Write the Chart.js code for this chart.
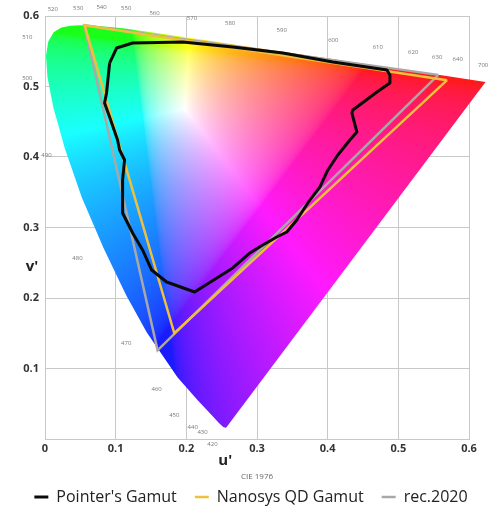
<!DOCTYPE html>
<html>
<head>
<meta charset="utf-8">
<script src="https://cdn.jsdelivr.net/npm/chart.js@4"></script>
<style>
  body { margin: 0; background: #fff; }
  #wrap { width: 502px; height: 512px; }
</style>
</head>
<body>
<div id="wrap"><canvas id="myChart"></canvas></div>
<script>
// spectral locus (CIE 1976 u'v'), 380 nm -> 700 nm
const locusU = [0.2568, 0.2557, 0.2522, 0.2461, 0.2347, 0.2161, 0.1877, 0.1441, 0.1147, 0.0828, 0.0521, 0.0282, 0.0119, 0.0035, 0.0014, 0.0046, 0.0123, 0.0231, 0.0360, 0.0501, 0.0643, 0.0792, 0.0953, 0.1127, 0.1319, 0.1531, 0.2026, 0.2623, 0.3315, 0.4035, 0.4692, 0.5203, 0.5565, 0.6005, 0.6234];
const locusV = [0.0166, 0.0159, 0.0169, 0.0226, 0.0350, 0.0549, 0.0871, 0.1510, 0.2044, 0.2708, 0.3427, 0.4117, 0.4698, 0.5131, 0.5432, 0.5638, 0.5770, 0.5837, 0.5861, 0.5868, 0.5865, 0.5856, 0.5841, 0.5821, 0.5796, 0.5766, 0.5694, 0.5604, 0.5501, 0.5393, 0.5296, 0.5219, 0.5165, 0.5099, 0.5065];

// Pointer's gamut outline
const pointerU = [0.0914, 0.1013, 0.1240, 0.1948, 0.2657, 0.3365, 0.4073, 0.4838, 0.4881, 0.4881, 0.4697, 0.4357, 0.4343, 0.4413, 0.4314, 0.4144, 0.4003, 0.3889, 0.3719, 0.3563, 0.3422, 0.3280, 0.3082, 0.2897, 0.2656, 0.2118, 0.1721, 0.1509, 0.1381, 0.1240, 0.1098, 0.1098, 0.1126, 0.1056, 0.1027, 0.0914, 0.0843, 0.0871, 0.0914];
const pointerV = [0.5330, 0.5546, 0.5617, 0.5631, 0.5560, 0.5475, 0.5348, 0.5234, 0.5163, 0.5050, 0.4922, 0.4667, 0.4624, 0.4355, 0.4241, 0.4028, 0.3816, 0.3574, 0.3348, 0.3106, 0.2936, 0.2865, 0.2752, 0.2638, 0.2426, 0.2085, 0.2227, 0.2397, 0.2681, 0.2922, 0.3206, 0.3674, 0.3957, 0.4099, 0.4241, 0.4567, 0.4766, 0.4908, 0.5330];

// primaries R, G, B, back to R
const nanosysU = [0.569, 0.056, 0.183, 0.569];
const nanosysV = [0.509, 0.587, 0.150, 0.509];
const rec2020U = [0.5566, 0.0556, 0.1593, 0.5566];
const rec2020V = [0.5165, 0.5868, 0.1258, 0.5165];

// wavelength marks around the locus
const wlText = ['520', '530', '540', '550', '560', '570', '580', '590', '600', '610', '620', '630', '640', '700', '510', '500', '490', '480', '470', '460', '450', '440', '430', '420'];
const wlU = [0.011, 0.047, 0.080, 0.115, 0.155, 0.208, 0.262, 0.335, 0.408, 0.471, 0.521, 0.555, 0.584, 0.620, -0.025, -0.025, 0.002, 0.046, 0.115, 0.158, 0.183, 0.209, 0.223, 0.237];
const wlV = [0.609, 0.611, 0.613, 0.611, 0.604, 0.597, 0.590, 0.580, 0.566, 0.556, 0.548, 0.542, 0.538, 0.530, 0.570, 0.512, 0.403, 0.257, 0.136, 0.070, 0.034, 0.017, 0.009, -0.007];

const seriesNames = ["Pointer's Gamut", 'Nanosys QD Gamut', 'rec.2020'];
const axisTicks = [0, 0.1, 0.2, 0.3, 0.4, 0.5, 0.6];

function pts(us, vs) {
    return us.map((u, i) => ({ x: u, y: vs[i] }));
}

// u'v' -> sRGB colour of the chromaticity (slightly softened)
function uvColor(u, v) {
    const d = 6 * u - 16 * v + 12;
    const x = 9 * u / d, y = 4 * v / d;
    if (y <= 0.0005) return [120, 40, 255];
    const X = x / y, Y = 1, Z = (1 - x - y) / y;
    let r = 3.2406 * X - 1.5372 * Y - 0.4986 * Z;
    let g = -0.9689 * X + 1.8758 * Y + 0.0415 * Z;
    let b = 0.0557 * X - 0.2040 * Y + 1.0570 * Z;
    r = Math.max(r, 0); g = Math.max(g, 0); b = Math.max(b, 0);
    const m = Math.max(r, g, b) || 1;
    const gam = c => {
        c = c / m;
        c = c <= 0.0031308 ? 12.92 * c : 1.055 * Math.pow(c, 1 / 2.4) - 0.055;
        c = 0.9 * c + 0.1;
        return Math.round(255 * c);
    };
    return [gam(r), gam(g), gam(b)];
}

function colourCanvas(chart) {
    const a = chart.chartArea;
    const x = chart.scales.x, y = chart.scales.y;
    const off = document.createElement('canvas');
    off.width = chart.width; off.height = chart.height;
    const octx = off.getContext('2d');
    const img = octx.createImageData(chart.width, chart.height);
    for (let j = 0; j < Math.ceil(a.bottom); j++) {
        const v = y.getValueForPixel(j + 0.5);
        for (let i = Math.floor(a.left); i < chart.width; i++) {
            const u = x.getValueForPixel(i + 0.5);
            const c = uvColor(u, v);
            const k = (j * chart.width + i) * 4;
            img.data[k] = c[0]; img.data[k + 1] = c[1]; img.data[k + 2] = c[2]; img.data[k + 3] = 255;
        }
    }
    octx.putImageData(img, 0, 0);
    return off;
}

// fills the locus dataset's outline (points placed by the scales) with the colour field,
// without the chart-area clip so the red tip can run past u' = 0.6
const locusFill = {
    id: 'locusFill',
    beforeDatasetsDraw(chart) {
        const meta = chart.getDatasetMeta(3);
        if (!meta || !meta.data.length) return;
        const ctx = chart.ctx;
        ctx.save();
        ctx.beginPath();
        meta.data.forEach((p, i) => i ? ctx.lineTo(p.x, p.y) : ctx.moveTo(p.x, p.y));
        ctx.closePath();
        ctx.clip();
        ctx.drawImage(colourCanvas(chart), 0, 0);
        ctx.restore();
    }
};

const extraText = {
    id: 'extraText',
    afterDatasetsDraw(chart) {
        const { ctx, chartArea: a, scales: { x, y } } = chart;
        ctx.save();
        ctx.fillStyle = '#777';
        ctx.font = '6px "Open Sans"';
        ctx.textAlign = 'center';
        ctx.textBaseline = 'middle';
        for (let i = 0; i < wlText.length; i++) {
            ctx.fillText(wlText[i], x.getPixelForValue(wlU[i]), y.getPixelForValue(wlV[i]));
        }
        ctx.fillStyle = '#222';
        ctx.font = 'bold 15px "Open Sans"';
        ctx.fillText("u'", x.getPixelForValue(0.255), a.bottom + 22);
        ctx.fillText("v'", a.left - 13, y.getPixelForValue(0.245));
        ctx.fillStyle = '#666';
        ctx.font = '8px "Open Sans"';
        ctx.fillText('CIE 1976', (a.left + a.right) / 2, a.bottom + 38);
        ctx.restore();
    }
};

const ctx = document.getElementById('myChart').getContext('2d');
const chart = new Chart(ctx, {
    type: 'scatter',
    data: {
        datasets: [{
            label: seriesNames[0],
            data: pts(pointerU, pointerV),
            showLine: true,
            borderColor: '#0a0a0a',
            backgroundColor: '#0a0a0a',
            borderWidth: 3,
            borderJoinStyle: 'round',
            pointRadius: 0
        }, {
            label: seriesNames[1],
            data: pts(nanosysU, nanosysV),
            showLine: true,
            borderColor: '#efc03c',
            backgroundColor: '#efc03c',
            borderWidth: 2.5,
            pointRadius: 0
        }, {
            label: seriesNames[2],
            data: pts(rec2020U, rec2020V),
            showLine: true,
            borderColor: '#a8a8a8',
            backgroundColor: '#a8a8a8',
            borderWidth: 2.5,
            pointRadius: 0
        }, {
            label: 'locus',
            data: pts(locusU, locusV),
            showLine: false,
            borderWidth: 0,
            pointRadius: 0,
            backgroundColor: 'rgba(0,0,0,0)'
        }]
    },
    options: {
        animation: false,
        responsive: true,
        maintainAspectRatio: false,
        layout: { padding: { top: 16, right: 0, bottom: 0, left: 0 } },
        scales: {
            x: {
                type: 'linear',
                min: 0, max: 0.6,
                afterBuildTicks: s => { s.ticks = axisTicks.map(v => ({ value: v })); },
                afterFit: s => { s.height = 32; },
                grid: { color: '#c8c8c8', drawTicks: false },
                border: { color: '#c8c8c8' },
                ticks: {
                    padding: 3,
                    color: '#333',
                    font: { family: 'Open Sans', size: 11, weight: 'bold' },
                    callback: v => v === 0 ? '0' : v.toFixed(1)
                }
            },
            y: {
                type: 'linear',
                min: 0, max: 0.6,
                afterBuildTicks: s => { s.ticks = axisTicks.map(v => ({ value: v })); },
                afterFit: s => { s.width = 45; },
                grid: { color: '#c8c8c8', drawTicks: false },
                border: { color: '#c8c8c8' },
                ticks: {
                    padding: 6,
                    color: '#333',
                    font: { family: 'Open Sans', size: 11, weight: 'bold' },
                    callback: v => v === 0 ? '' : v.toFixed(1)
                }
            },
            // empty right-hand axis, only keeps room for the red tip of the locus
            yRight: {
                type: 'linear',
                position: 'right',
                min: 0, max: 0.6,
                afterFit: s => { s.width = 33; },
                grid: { display: false, drawOnChartArea: false },
                border: { display: false },
                ticks: { display: false }
            }
        },
        plugins: {
            legend: {
                position: 'bottom',
                maxHeight: 41,
                labels: {
                    usePointStyle: true,
                    pointStyle: 'line',
                    pointStyleWidth: 14,
                    padding: 18,
                    color: '#222',
                    font: { family: 'Open Sans', size: 16 },
                    filter: item => item.datasetIndex < 3
                }
            },
            tooltip: { enabled: false }
        }
    },
    plugins: [locusFill, extraText]
});
</script>
</body>
</html>
